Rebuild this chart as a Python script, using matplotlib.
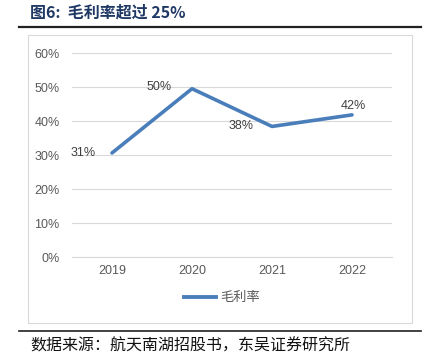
import matplotlib
matplotlib.use("Agg")
import matplotlib.pyplot as plt
from matplotlib.patches import Rectangle
from matplotlib.lines import Line2D

plt.rcParams['font.family'] = ['Noto Sans CJK SC', 'DejaVu Sans']
NUMFONT = ['Liberation Sans', 'DejaVu Sans']

years = ["2019", "2020", "2021", "2022"]
gross_margin = [30.6, 49.5, 38.4, 41.8]
point_labels = ["31%", "50%", "38%", "42%"]
yticks = [0, 10, 20, 30, 40, 50, 60]

W, H = 438, 358
fig = plt.figure(figsize=(W / 100, H / 100), dpi=100)

def fx(x): return x / W
def fy(y): return 1 - y / H

# title
fig.text(fx(30), fy(13), "图6:  毛利率超过 25%", fontsize=11.5, fontweight='bold',
         color='#1f3864', va='center', ha='left')
fig.add_artist(Line2D([fx(19), fx(421)], [fy(27), fy(27)], color='#222222', lw=1.6))
# chart frame
frame = Rectangle((fx(28), fy(323)), fx(412) - fx(28), fy(35) - fy(323),
                  facecolor='white', edgecolor='#d9d9d9', lw=0.8, zorder=0)
fig.add_artist(frame)
fig.add_artist(Line2D([fx(19), fx(421)], [fy(331), fy(331)], color='#222222', lw=1.2))
fig.text(fx(30), fy(346), "数据来源：航天南湖招股书，东吴证券研究所", fontsize=11.5,
         color='#111111', va='center', ha='left')

ax = fig.add_axes([fx(72), fy(257), fx(392) - fx(72), fy(53) - fy(257)])
ax.set_zorder(5)
ax.patch.set_alpha(0)
x = list(range(len(years)))
ax.plot(x, gross_margin, color='#4a7ebb', lw=2.6, solid_capstyle='round', label='毛利率')
ax.set_xlim(-0.5, len(years) - 0.5)
ax.set_ylim(0, 60)
ax.set_yticks(yticks)
ax.set_yticklabels([f"{v}%" for v in yticks], family=NUMFONT)
ax.set_xticks(x)
ax.set_xticklabels(years, family=NUMFONT)
ax.grid(axis='y', color='#d9d9d9', lw=0.8)
ax.set_axisbelow(True)
for s in ['top', 'right', 'left']:
    ax.spines[s].set_visible(False)
ax.spines['bottom'].set_color('#d9d9d9')
ax.tick_params(axis='both', length=0, labelsize=9, colors='#595959')
ax.tick_params(axis='y', pad=9)
ax.tick_params(axis='x', pad=6)

offsets = [(-21, 0), (-24, 1.5), (-22, 0), (1, 6.5)]
for xi, yi, lab, (dx, dy) in zip(x, gross_margin, point_labels, offsets):
    ax.annotate(lab, (xi, yi), xytext=(dx, dy), textcoords='offset points',
                ha='center', va='center', fontsize=9, color='#404040', family=NUMFONT)

leg = fig.legend(handles=[Line2D([], [], color='#4a7ebb', lw=2.8)], labels=['毛利率'],
                 loc='center', bbox_to_anchor=(fx(222), fy(298)), frameon=False,
                 fontsize=9.5, handlelength=2.4, handletextpad=0.3)
leg.set_zorder(6)
for t in leg.get_texts():
    t.set_color('#595959')

fig.savefig("out.png", dpi=100)
